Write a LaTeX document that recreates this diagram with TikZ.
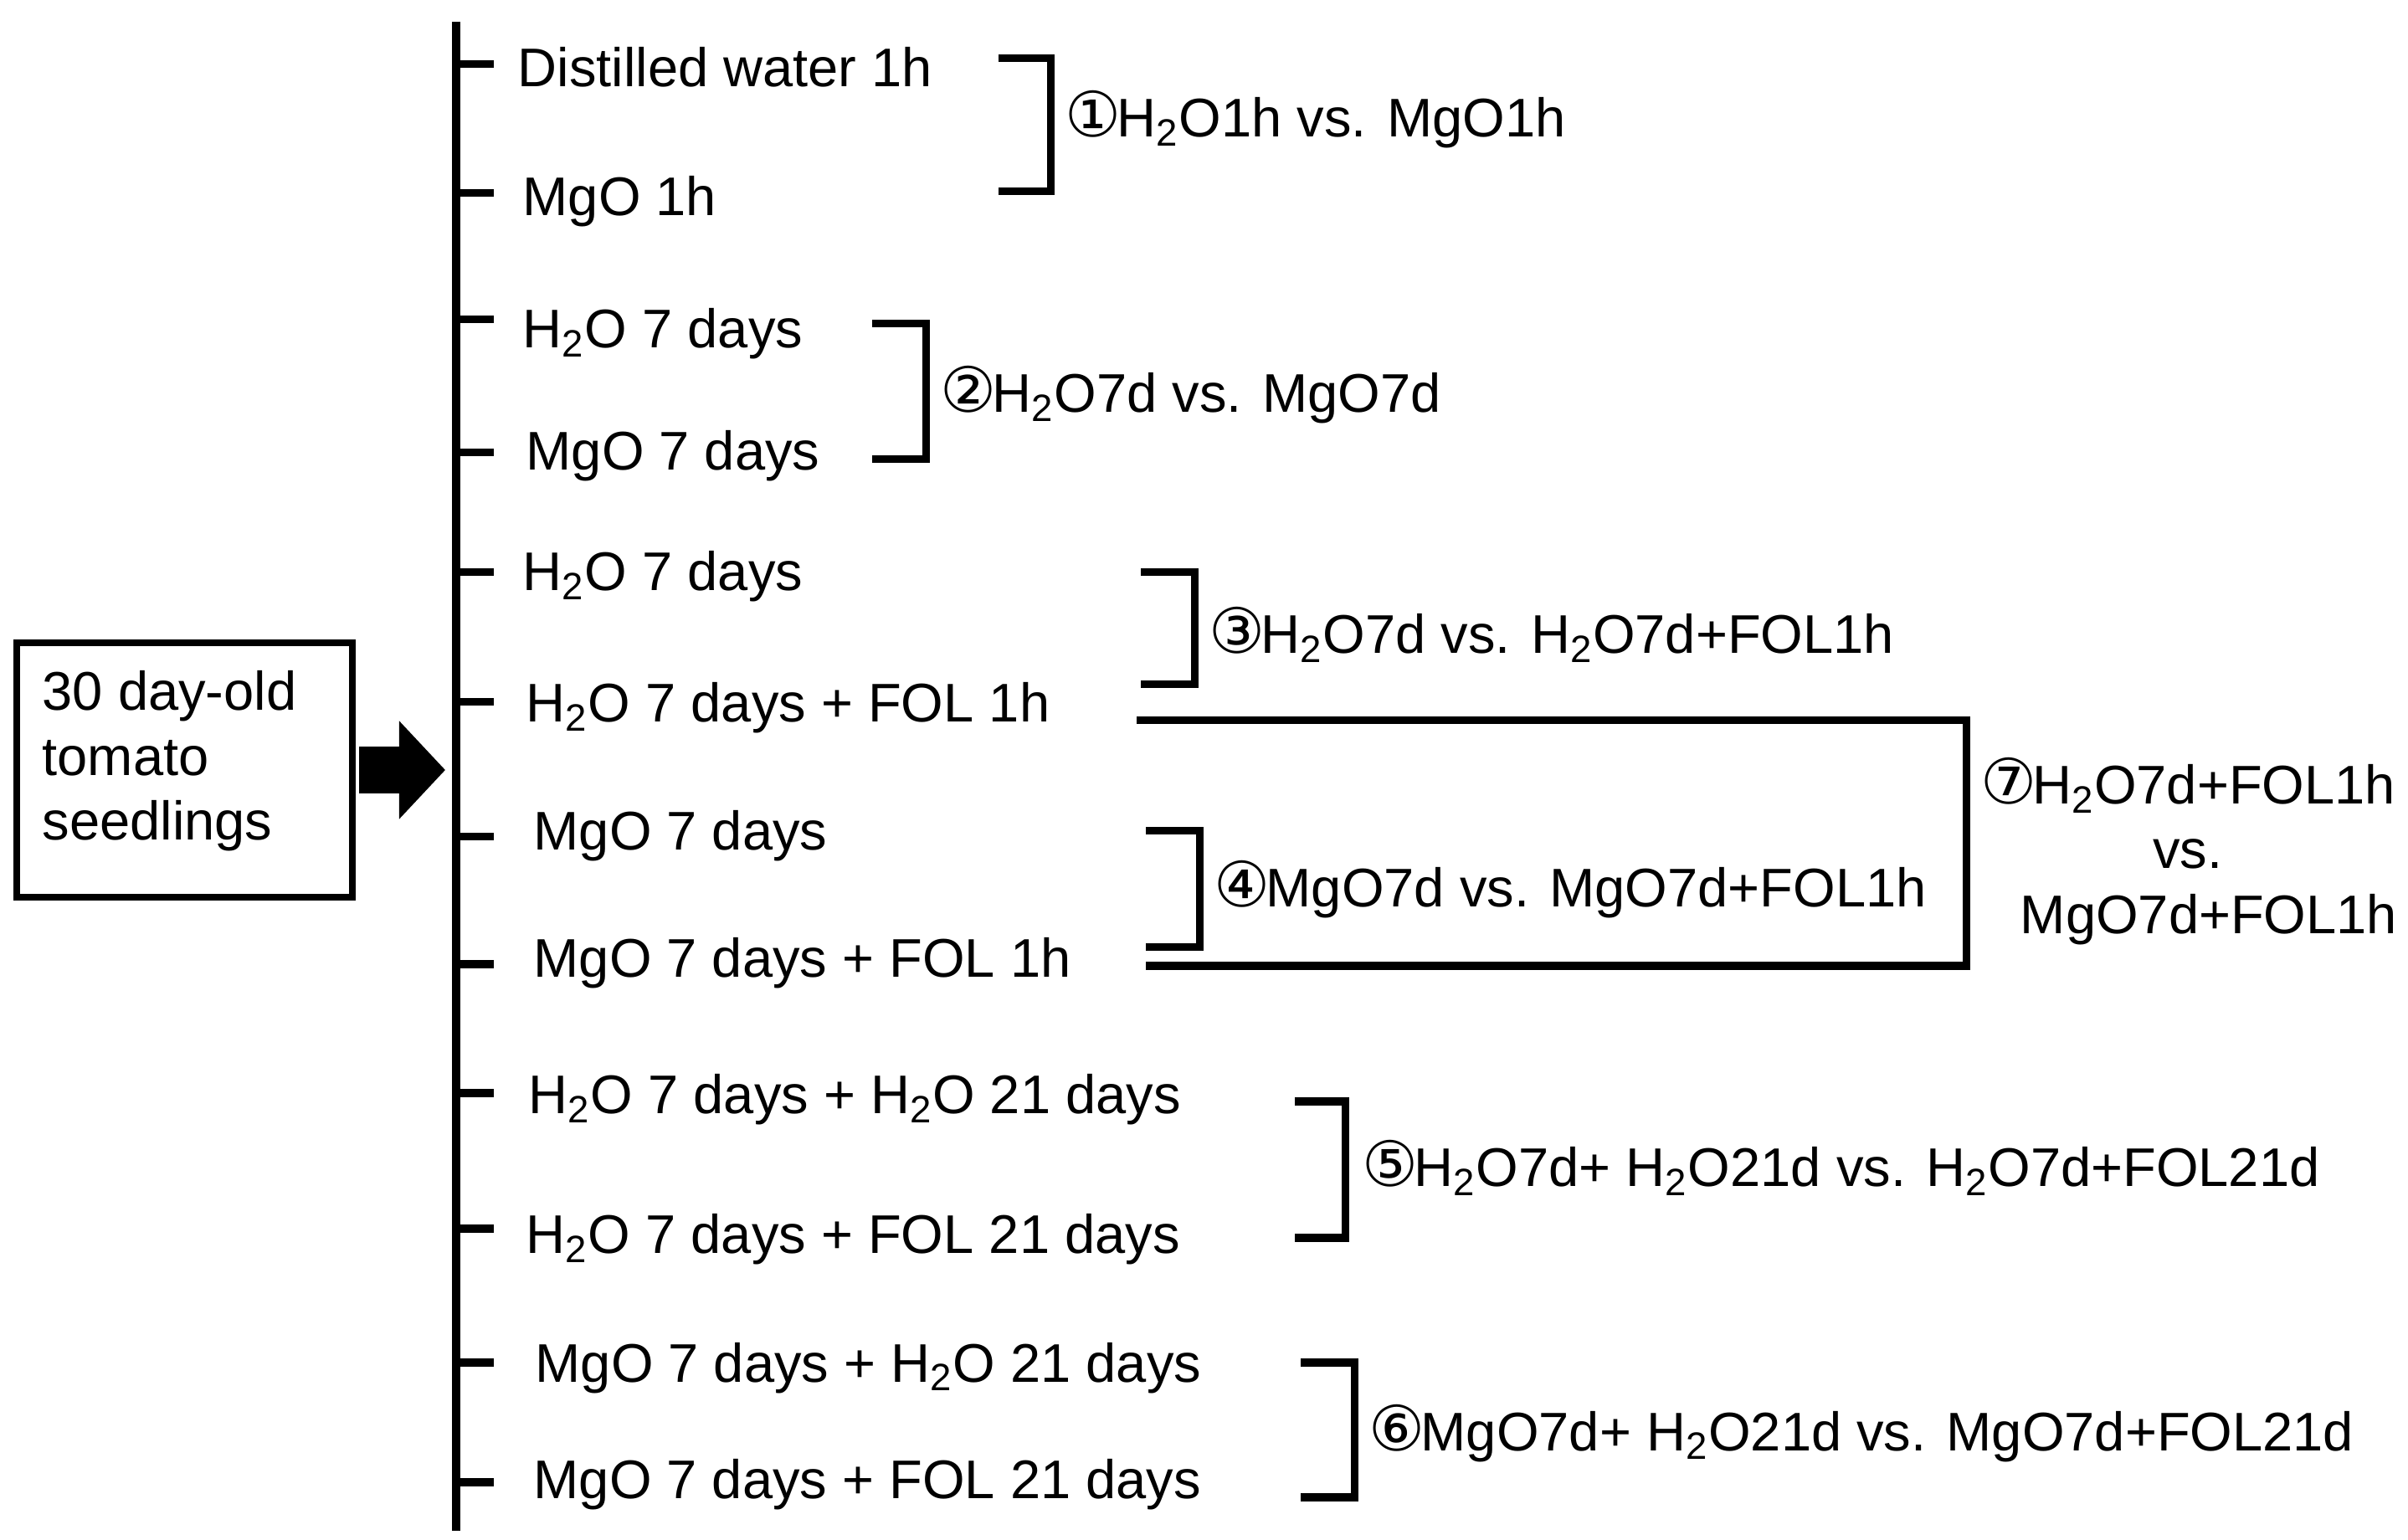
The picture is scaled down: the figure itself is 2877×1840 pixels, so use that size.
\documentclass[tikz,border=0pt]{standalone}
\usepackage{fontspec}
\setmainfont{Liberation Sans}
\newfontfamily\circfont[Scale=1.15]{DejaVu Sans}
\usetikzlibrary{arrows.meta}
\newcommand{\wat}{H\textsubscript{2}O}
\newcommand{\cnum}[1]{{\circfont #1}\kern-0.05cm}

\begin{document}
\begin{tikzpicture}[x=0.01cm,y=-0.01cm,
  every node/.style={font=\fontsize{18.5}{22}\selectfont, inner sep=0pt},
  grp/.style={anchor=base west},
  trunk/.style={line width=0.1cm},
  tick/.style={line width=0.09cm},
  brk/.style={line width=0.09cm, line join=miter},
  fatarrow/.style={line width=0.56cm, -{Triangle[length=0.55cm,width=1.14cm]}}]
\useasboundingbox (0,0) rectangle (2877,1840);
% start material
\node[draw, line width=0.08cm, minimum width=4.01cm, minimum height=3.04cm] (seedbox) at (220.5,920) {};
\node[anchor=north west, align=left] (seedtxt) at (50,801) {30 day-old\\tomato\\seedlings};
\coordinate (arrowfrom) at (429,920);
\coordinate (arrowto) at (532,920);
\draw[fatarrow] (arrowfrom) -- (arrowto);
% main line and ticks
\coordinate (trunktop) at (545,26);
\coordinate (trunkbot) at (545,1829);
\draw[trunk] (trunktop) -- (trunkbot);
\draw[tick] (545,77) -- (590,77);
\draw[tick] (545,231) -- (590,231);
\draw[tick] (545,382) -- (590,382);
\draw[tick] (545,541) -- (590,541);
\draw[tick] (545,684) -- (590,684);
\draw[tick] (545,839) -- (590,839);
\draw[tick] (545,1000) -- (590,1000);
\draw[tick] (545,1152) -- (590,1152);
\draw[tick] (545,1306) -- (590,1306);
\draw[tick] (545,1468) -- (590,1468);
\draw[tick] (545,1628) -- (590,1628);
\draw[tick] (545,1771) -- (590,1771);
% treatment groups
\node[grp] (g1) at (618,104) {Distilled water 1h};
\node[grp] (g2) at (624,258) {MgO 1h};
\node[grp] (g3) at (624,416) {\wat{} 7 days};
\node[grp] (g4) at (628,562) {MgO 7 days};
\node[grp] (g5) at (624,706) {\wat{} 7 days};
\node[grp] (g6) at (628,863) {\wat{} 7 days + FOL 1h};
\node[grp] (g7) at (637,1016) {MgO 7 days};
\node[grp] (g8) at (637,1168) {MgO 7 days + FOL 1h};
\node[grp] (g9) at (631,1331) {\wat{} 7 days + \wat{} 21 days};
\node[grp] (g10) at (628,1498) {\wat{} 7 days + FOL 21 days};
\node[grp] (g11) at (639,1651) {MgO 7 days + \wat{} 21 days};
\node[grp] (g12) at (637,1790) {MgO 7 days + FOL 21 days};
% comparison brackets
\draw[brk] (1193,70) -- (1255,70) -- (1255,229) -- (1193,229);
\draw[brk] (1042,387) -- (1106,387) -- (1106,549) -- (1042,549);
\draw[brk] (1363,684) -- (1427,684) -- (1427,818) -- (1363,818);
\draw[brk] (1369,993) -- (1433,993) -- (1433,1132) -- (1369,1132);
\draw[brk] (1358,861) -- (2349,861) -- (2349,1154) -- (1369,1154);
\draw[brk] (1547,1316) -- (1607,1316) -- (1607,1479) -- (1547,1479);
\draw[brk] (1554,1628) -- (1618,1628) -- (1618,1789) -- (1554,1789);
% comparisons
\node[grp] (c1) at (1272,164) {\cnum{①}\wat1h vs. MgO1h};
\node[grp] (c2) at (1123,493) {\cnum{②}\wat7d vs. MgO7d};
\node[grp] (c3) at (1444,781) {\cnum{③}\wat7d vs. \wat7d+FOL1h};
\node[grp] (c4) at (1450,1084) {\cnum{④}MgO7d vs. MgO7d+FOL1h};
\node[grp] (c5) at (1627,1418) {\cnum{⑤}\wat7d+ \wat21d vs. \wat7d+FOL21d};
\node[grp] (c6) at (1635,1733) {\cnum{⑥}MgO7d+ \wat21d vs. MgO7d+FOL21d};
\node[align=center] (c7) at (2614,1017) {\cnum{⑦}\wat7d+FOL1h\\vs.\\\hspace*{0.5cm}MgO7d+FOL1h};
\end{tikzpicture}
\end{document}
